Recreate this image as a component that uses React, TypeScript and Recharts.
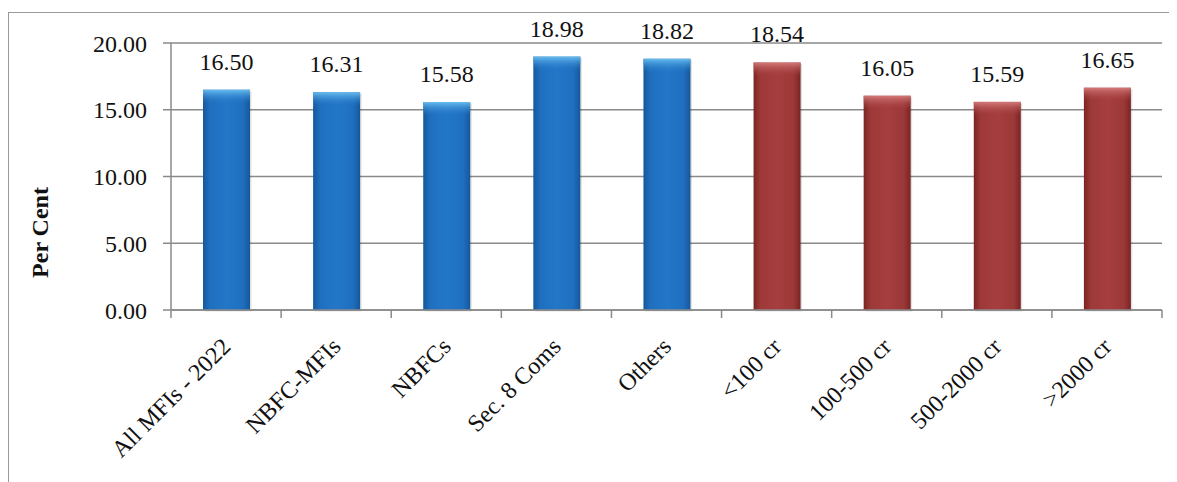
import React from 'react';
import { BarChart, Bar, XAxis, YAxis, CartesianGrid, LabelList, Cell } from 'recharts';

const categories = ['All MFIs - 2022', 'NBFC-MFIs', 'NBFCs', 'Sec. 8 Coms', 'Others', '<100 cr', '100-500 cr', '500-2000 cr', '>2000 cr'];
const values = [16.5, 16.31, 15.58, 18.98, 18.82, 18.54, 16.05, 15.59, 16.65];
const groups = ['type', 'type', 'type', 'type', 'type', 'size', 'size', 'size', 'size'];
const yTicks = [0, 5, 10, 15, 20];

const data = categories.map((name, i) => ({ name, value: values[i], group: groups[i] }));

const FONT = '"Liberation Serif", "Times New Roman", serif';
const FS = 24;
const CHART_W = 1168;
const CHART_H = 469;
const MARGIN = { top: 30, right: 15, bottom: 12, left: 0 };
const Y_W = 162;
const BAND = (CHART_W - MARGIN.left - MARGIN.right - Y_W) / categories.length;
const AXIS_COLOR = '#8a8a8a';

const ShadedBar = (props: any) => {
  const { x, y, width, height, payload } = props;
  if (!height || height <= 0) return null;
  const id = payload.group === 'size' ? 'red' : 'blue';
  return (
    <g>
      <rect x={x + 1.5} y={y + 1.5} width={width} height={height} fill="rgba(0,0,0,0.12)" />
      <rect x={x} y={y} width={width} height={height} fill={`url(#${id}Body)`} />
      <rect x={x} y={y} width={width} height={Math.min(14, height)} fill={`url(#${id}Cap)`} />
    </g>
  );
};

const XTick = (props: any) => {
  const { x, y, payload, index } = props;
  const half = BAND / 2;
  return (
    <g>
      <line x1={x - half} y1={y - 8} x2={x - half} y2={y} stroke={AXIS_COLOR} strokeWidth={1.5} />
      {index === categories.length - 1 && (
        <line x1={x + half} y1={y - 8} x2={x + half} y2={y} stroke={AXIS_COLOR} strokeWidth={1.5} />
      )}
      <g transform={`translate(${x + 6},${y + 30})`}>
        <text transform="rotate(-45)" textAnchor="end" fontFamily={FONT} fontSize={FS} fill="#111">
          {payload.value}
        </text>
      </g>
    </g>
  );
};

const YLabel = (props: any) => {
  const { viewBox } = props;
  const cx = viewBox.x + 31;
  const cy = viewBox.y + viewBox.height / 2 + 56;
  return (
    <text
      x={cx}
      y={cy}
      transform={`rotate(-90 ${cx} ${cy})`}
      textAnchor="middle"
      dominantBaseline="central"
      fontFamily={FONT}
      fontWeight="bold"
      fontSize={FS}
      fill="#111"
    >
      Per Cent
    </text>
  );
};

export default function App() {
  return (
    <div style={{ paddingTop: 4 }}>
      <div style={{ borderTop: '1.5px solid #999', borderLeft: '1.5px solid #999', width: CHART_W, height: CHART_H, background: '#fff' }}>
        <BarChart width={CHART_W} height={CHART_H} data={data} margin={MARGIN}>
          <defs>
            <linearGradient id="blueBody" x1="0" y1="0" x2="1" y2="0">
              <stop offset="0%" stopColor="#15589a" />
              <stop offset="15%" stopColor="#1f6fbf" />
              <stop offset="50%" stopColor="#2377c8" />
              <stop offset="85%" stopColor="#1f6fbf" />
              <stop offset="100%" stopColor="#15589a" />
            </linearGradient>
            <linearGradient id="blueCap" x1="0" y1="0" x2="0" y2="1">
              <stop offset="0%" stopColor="#6cc0f0" stopOpacity={0.95} />
              <stop offset="100%" stopColor="#2377c8" stopOpacity={0} />
            </linearGradient>
            <linearGradient id="redBody" x1="0" y1="0" x2="1" y2="0">
              <stop offset="0%" stopColor="#7a2424" />
              <stop offset="15%" stopColor="#9e3939" />
              <stop offset="50%" stopColor="#a63e3e" />
              <stop offset="85%" stopColor="#9c3838" />
              <stop offset="100%" stopColor="#7a2424" />
            </linearGradient>
            <linearGradient id="redCap" x1="0" y1="0" x2="0" y2="1">
              <stop offset="0%" stopColor="#d98080" stopOpacity={0.9} />
              <stop offset="100%" stopColor="#a63e3e" stopOpacity={0} />
            </linearGradient>
          </defs>
          <CartesianGrid vertical={false} stroke={AXIS_COLOR} strokeWidth={1.5} />
          <XAxis
            dataKey="name"
            interval={0}
            height={160}
            tickLine={false}
            tickSize={8}
            tickMargin={0}
            axisLine={{ stroke: AXIS_COLOR, strokeWidth: 1.5 }}
            tick={<XTick />}
          />
          <YAxis
            width={Y_W}
            domain={[0, 20]}
            ticks={yTicks}
            interval={0}
            tickFormatter={(v: number) => v.toFixed(2)}
            tickSize={8}
            tickMargin={16}
            axisLine={{ stroke: AXIS_COLOR, strokeWidth: 1.5 }}
            tickLine={{ stroke: AXIS_COLOR, strokeWidth: 1.5 }}
            tick={{ fontFamily: FONT, fontSize: FS, fill: '#111' }}
            label={<YLabel />}
          />
          <Bar dataKey="value" barSize={47} isAnimationActive={false} shape={<ShadedBar />}>
            {data.map((d, i) => (
              <Cell key={i} fill={d.group === 'size' ? '#a63e3e' : '#2377c8'} />
            ))}
            <LabelList
              dataKey="value"
              position="top"
              offset={20}
              formatter={(v: number) => v.toFixed(2)}
              style={{ fontFamily: FONT, fontSize: FS, fill: '#111' }}
            />
          </Bar>
        </BarChart>
      </div>
    </div>
  );
}
